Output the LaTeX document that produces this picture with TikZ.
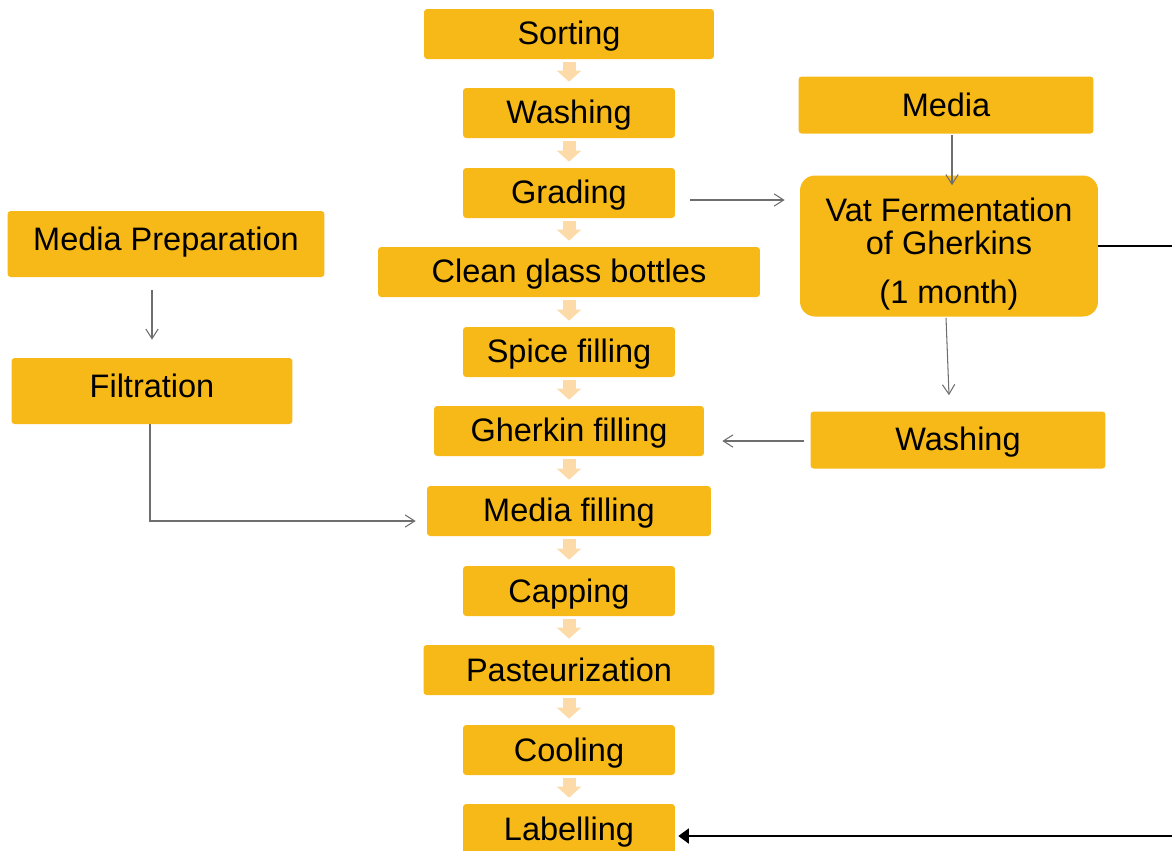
\documentclass[tikz,border=0pt]{standalone}
\usepackage{fontspec}
\setmainfont{Liberation Sans}
\usetikzlibrary{arrows.meta,calc}
\definecolor{boxorange}{HTML}{F6B918}
\definecolor{flowtint}{HTML}{FCDBA8}
\definecolor{linkgray}{HTML}{6E6E6E}

\begin{document}
\begin{tikzpicture}[x=0.02cm,y=-0.02cm,font=\fontsize{18.5}{19}\selectfont,
        stepbox/.style={fill=boxorange,rounded corners=1.8pt,inner sep=0pt,minimum height=1cm,text height=16.6pt,text depth=4.1pt},
        narrow/.style={stepbox,minimum width=4.24cm},
        flow/.style={color=flowtint,line width=7.4pt,-{Triangle[length=6.3pt,width=13.6pt]},shorten <=1.7pt,shorten >=3.4pt},
        link/.style={draw=linkgray,line width=0.6pt,-{Straight Barb[length=5.5pt,width=7pt]}},
        feed/.style={draw=black,line width=1.2pt}]
    \useasboundingbox (0,0) rectangle (1172,850);
    % main line
    \node[stepbox,minimum width=5.8cm] (sort) at (569,34) {Sorting};
    \node[narrow] (wash1) at (569,113) {Washing};
    \node[narrow] (grad) at (569,193) {Grading};
    \node[stepbox,minimum width=7.64cm] (clean) at (569,272) {Clean glass bottles};
    \node[narrow] (spice) at (569,352) {Spice filling};
    \node[stepbox,minimum width=5.4cm] (gfil) at (569,431) {Gherkin filling};
    \node[stepbox,minimum width=5.68cm] (mfil) at (569,511) {Media filling};
    \node[narrow] (cap) at (569,591) {Capping};
    \node[stepbox,minimum width=5.82cm] (past) at (569,670) {Pasteurization};
    \node[narrow] (cool) at (569,750) {Cooling};
    \node[narrow] (lab) at (569,829) {Labelling};
    \foreach \a/\b in {sort/wash1,wash1/grad,grad/clean,clean/spice,spice/gfil,gfil/mfil,mfil/cap,cap/past,past/cool,cool/lab}
        \draw[flow] (\a.south) -- (\b.north);
    % fermentation side
    \node[stepbox,minimum width=5.9cm,minimum height=1.14cm,text height=13.3pt,text depth=0pt] (media) at (946,105) {Media};
    \node[fill=boxorange,rounded corners=8.5pt,inner sep=0pt,align=center,minimum width=5.96cm,minimum height=2.82cm] (vat) at (949,246)
        {\rule{0pt}{22.6pt}Vat Fermentation\\of Gherkins\\[9pt](1 month)};
    \node[stepbox,minimum width=5.9cm,minimum height=1.14cm] (wash2) at (958,440) {Washing};
    % media side
    \node[stepbox,minimum width=6.34cm,minimum height=1.32cm,text height=13.3pt,text depth=6.3pt] (mprep) at (166,244) {Media Preparation};
    \node[stepbox,minimum width=5.62cm,minimum height=1.32cm,text height=13.3pt,text depth=5.7pt] (filt) at (152,391) {Filtration};
    % links
    \draw[link] ($(grad.east)+(15,7)$) -- ($(vat.west)+(-15,-46)$);
    \draw[link] ($(media.south)+(6,1)$) -- ($(vat.north)+(3,10)$);
    \draw[link] ($(vat.south)+(-3,1)$) -- ($(wash2.north)+(-9,-16)$);
    \draw[link] ($(wash2.west)+(-6,1)$) -- ($(gfil.east)+(18,10)$);
    \draw[link] ($(mprep.south)+(-14,13)$) -- ($(filt.north)+(0,-18)$);
    \draw[link] ($(filt.south)+(-2,0)$) |- ($(mfil.west)+(-11,10)$);
    % to labelling
    \coordinate (east1) at (1172,246);
    \coordinate (east2) at (1172,836);
    \draw[feed] (vat.east) -- (east1);
    \draw[feed,-{Triangle[length=6pt,width=8.5pt]},shorten >=1.7pt] (east2) -- (east2 -| lab.east);
\end{tikzpicture}
\end{document}
